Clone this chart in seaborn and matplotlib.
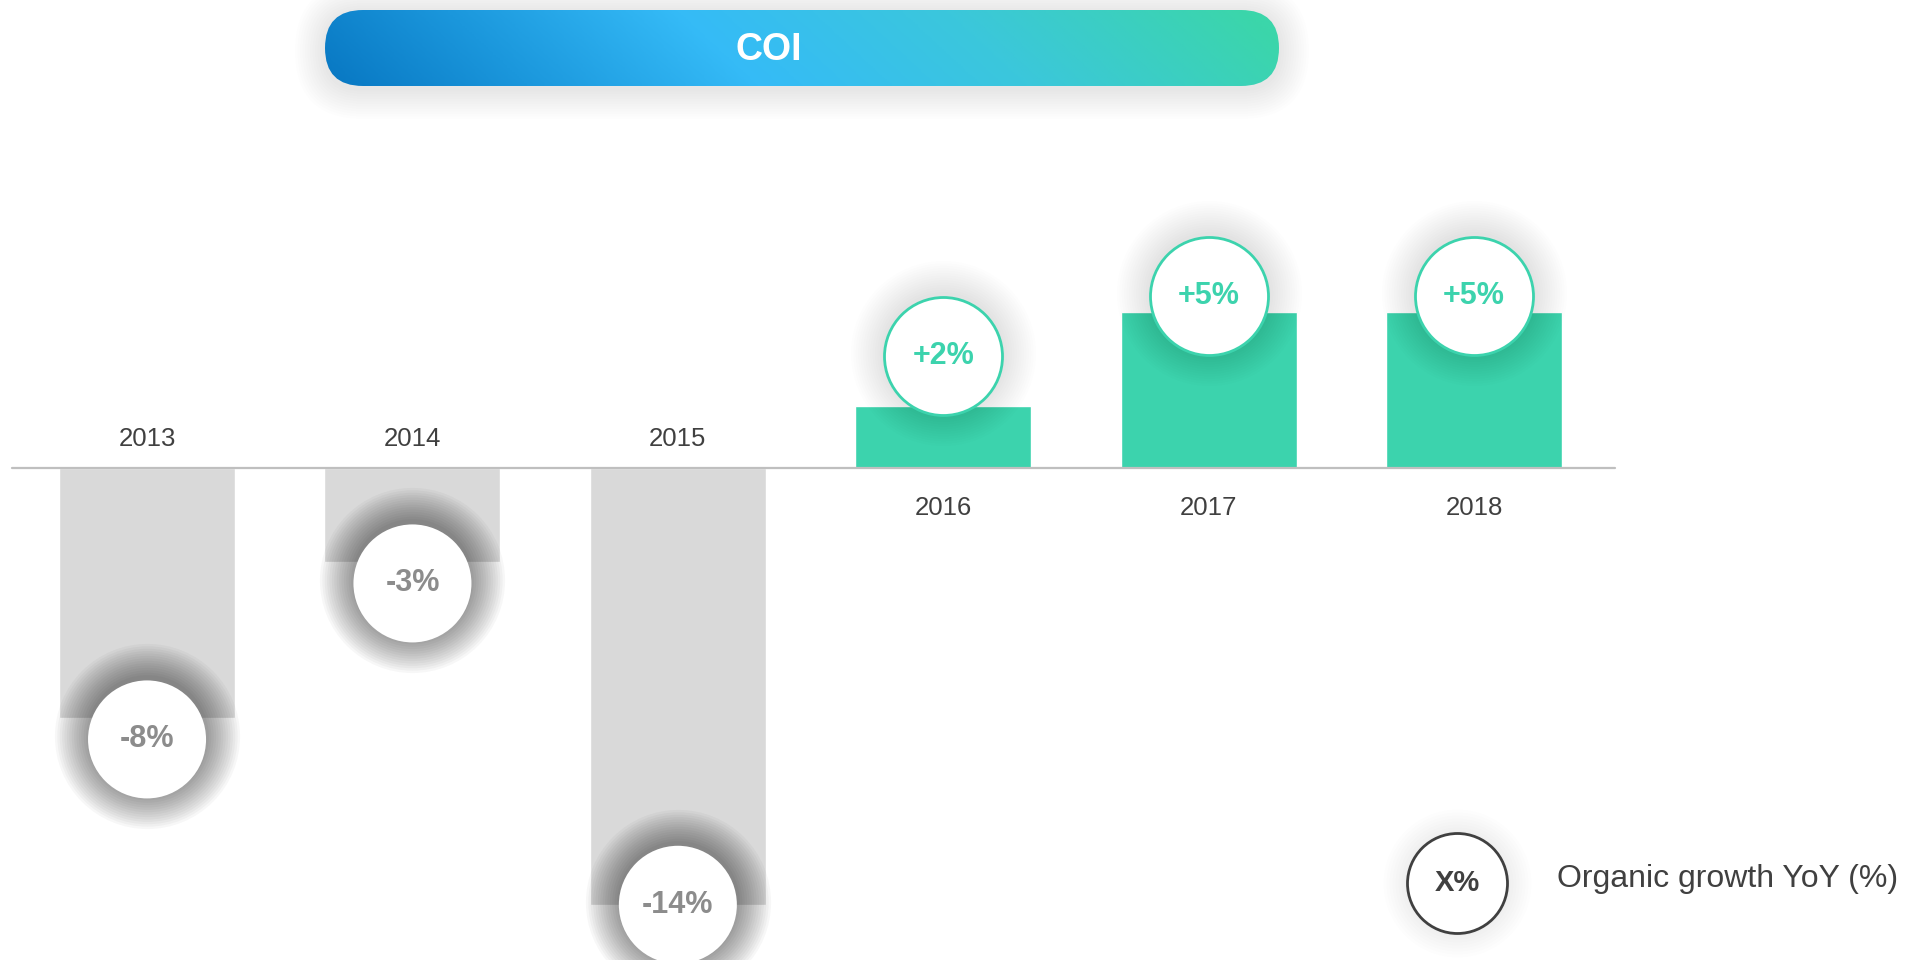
import matplotlib
matplotlib.use("Agg")
import matplotlib.pyplot as plt
import numpy as np
import pandas as pd
import seaborn as sns
from matplotlib.patches import FancyBboxPatch
from matplotlib.colors import LinearSegmentedColormap

# data
years = ["2013", "2014", "2015", "2016", "2017", "2018"]
growth = [-8, -3, -14, 2, 5, 5]
title = "COI"
legend_badge = "X%"
legend_text = "Organic growth YoY (%)"

GREY_BAR = "#d9d9d9"
TEAL = "#3cd3ad"
TEXT = "#404040"
NEG_TXT = "#8c8c8c"

sns.set_theme(style="white")
plt.rcParams["font.family"] = ["Liberation Sans", "DejaVu Sans"]

W, H, DPI = 1929, 960, 100
fig = plt.figure(figsize=(W / DPI, H / DPI), dpi=DPI)
fig.patch.set_facecolor("white")

# main chart axes covers the whole figure, limits tuned to the reference
ax = fig.add_axes([0, 0, 1, 1])
df = pd.DataFrame({"year": years, "growth": growth})
palette = {y: (TEAL if g > 0 else GREY_BAR) for y, g in zip(years, growth)}
sns.barplot(data=df, x="year", y="growth", hue="year", palette=palette,
            width=0.663, legend=False, saturation=1, ax=ax, zorder=2)
ax.set_xlim(-0.554, 6.714)
ax.set_ylim(-15.77, 15.0)
ax.axis("off")
ax.axhline(0, xmin=12 / W, xmax=1615 / W, color="#bfbfbf", lw=1.6, zorder=3)

r_pt = 59 * 72 / DPI
size = (2 * r_pt) ** 2
for i, (yr, g) in enumerate(zip(years, growth)):
    if g < 0:
        cy = max(g - 0.7, -14.0)
        ax.text(i, 0.94, yr, ha="center", va="center", fontsize=18.5, color=TEXT)
        glow_alpha, lab_col, edge = 0.03, NEG_TXT, "none"
    else:
        cy = g + max(0.5, 3.6 - g)
        ax.text(i, -1.27, yr, ha="center", va="center", fontsize=18.5, color=TEXT)
        glow_alpha, lab_col, edge = 0.007, TEAL, TEAL
    # soft shadow around the badge
    for k in range(14, 0, -1):
        rr = r_pt + k * 2.4 * 72 / DPI
        ax.scatter([i], [cy + 0.1], s=(2 * rr) ** 2, color="black",
                   alpha=glow_alpha, lw=0, zorder=4)
    ax.scatter([i], [cy], s=size, color="white", edgecolors=edge,
               linewidths=2, zorder=5)
    lab = f"{g:+d}%"
    ax.text(i, cy, lab, ha="center", va="center", fontsize=22,
            fontweight="bold", color=lab_col, zorder=6)

# legend badge
lx, ly = 1457 / W, 1 - 883 / H
lr = 50 * 72 / DPI
for k in range(8, 0, -1):
    rr = lr + k * 3 * 72 / DPI
    fig.add_artist(plt.Line2D([lx], [ly], marker="o", markersize=2 * rr,
                              color="black", alpha=0.008, lw=0,
                              markeredgewidth=0, transform=fig.transFigure))
fig.add_artist(plt.Line2D([lx], [ly], marker="o", markersize=2 * lr,
                          markerfacecolor="white", markeredgecolor=TEXT,
                          markeredgewidth=2, lw=0, transform=fig.transFigure))
fig.text(lx, ly, legend_badge, ha="center", va="center", fontsize=21,
         fontweight="bold", color=TEXT)
fig.text(1557 / W, 1 - 879 / H, legend_text, ha="left", va="center",
         fontsize=23, color=TEXT)

# title pill with gradient
px0, py0, pw, ph = 325, 10, 954, 76
tax = fig.add_axes([(px0 - 40) / W, 1 - (py0 + ph + 40) / H,
                    (pw + 80) / W, (ph + 80) / H])
tax.set_xlim(-40, pw + 40)
tax.set_ylim(-40, ph + 40)
tax.axis("off")
for k in range(12, 0, -1):
    tax.add_patch(FancyBboxPatch((-k * 2.5, -k * 2.5 - 3), pw + k * 5, ph + k * 5,
                                 boxstyle=f"round,pad=0,rounding_size={ph / 2 + k * 2.5}",
                                 fc="black", ec="none", alpha=0.006, zorder=1))
pill = FancyBboxPatch((0, 0), pw, ph, boxstyle=f"round,pad=0,rounding_size={ph / 2}",
                      fc="none", ec="none")
tax.add_patch(pill)
cmap = LinearSegmentedColormap.from_list(
    "pill", [(0.0, "#0877c2"), (0.2, "#1b97dc"), (0.43, "#35bbf7"),
             (0.7, "#3bc7dc"), (1.0, "#3bd6aa")])
gx, gy = np.meshgrid(np.linspace(0, 1, 400), np.linspace(0, 1, 40))
grad = np.clip(gx * 0.95 + 0.08 * gy, 0, 1)
img = tax.imshow(grad, cmap=cmap, extent=(0, pw, 0, ph), origin="lower",
                 aspect="auto", interpolation="bilinear", zorder=2)
img.set_clip_path(pill)
tax.text(pw * 0.465, ph / 2 - 2, title, ha="center", va="center", fontsize=27,
         fontweight="bold", color="white", zorder=3)

fig.savefig("out.png", dpi=DPI, facecolor="white")
